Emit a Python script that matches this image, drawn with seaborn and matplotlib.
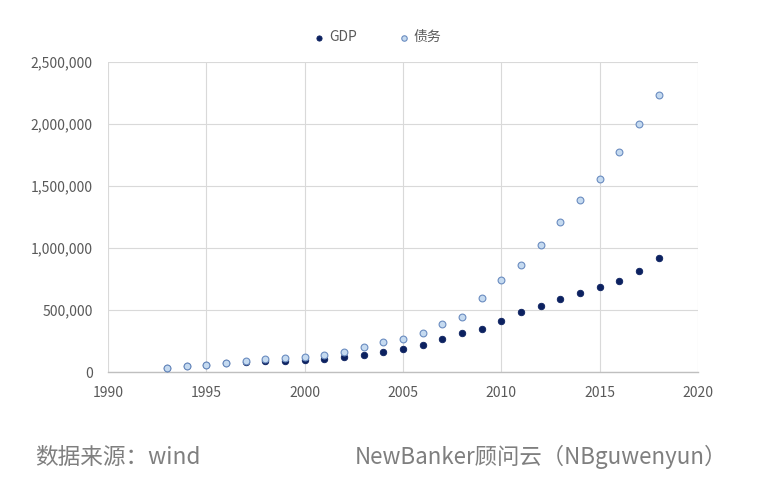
import numpy as np
import pandas as pd
import matplotlib.pyplot as plt
import matplotlib.ticker as mticker
import seaborn as sns

years = list(range(1993, 2019))
gdp = [34000, 50000, 58000, 73000, 81000, 85000, 90500, 98000, 108000, 121000,
       137000, 162000, 187000, 220000, 269000, 317000, 349000, 414000, 485000, 536000,
       591000, 641000, 688000, 736000, 817000, 922000]
debt = [35000, 51000, 59000, 75000, 91000, 107000, 115000, 123000, 140000, 164000,
        204000, 245000, 269000, 317000, 390000, 446000, 599000, 744000, 865000, 1027000,
        1212000, 1390000, 1559000, 1777000, 2002000, 2236000]

sns.set_theme(style="white")
plt.rcParams['font.family'] = ['Noto Sans CJK SC', 'DejaVu Sans']

df = pd.DataFrame({"year": years, "GDP": gdp, "债务": debt})

fig = plt.figure(figsize=(7.72, 4.87), dpi=100)
ax = fig.add_axes([0.1399, 0.2361, 0.7642, 0.6366])

sns.scatterplot(data=df, x="year", y="GDP", ax=ax, s=22, color="#0c2160",
                edgecolor="#0c2160", linewidth=0.6, label="GDP", zorder=3)
sns.scatterplot(data=df, x="year", y="债务", ax=ax, s=24, color="#c5daf0",
                edgecolor="#6a8cc0", linewidth=0.8, label="债务", zorder=4)

ax.set_xlim(1990, 2020)
ax.set_ylim(0, 2500000)
ax.set_xticks(range(1990, 2021, 5))
ax.set_yticks(range(0, 2500001, 500000))
ax.yaxis.set_major_formatter(mticker.FuncFormatter(lambda v, p: f"{int(v):,}"))
ax.grid(True, color="#d9d9d9", linewidth=0.8)
ax.set_axisbelow(True)
for side in ["top", "right", "left"]:
    ax.spines[side].set_visible(False)
ax.spines["bottom"].set_color("#bfbfbf")
ax.spines["bottom"].set_linewidth(1.0)
ax.tick_params(axis="both", length=0, labelsize=10, labelcolor="#595959")
ax.tick_params(axis="y", pad=11)
ax.tick_params(axis="x", pad=10)
ax.set_xlabel("")
ax.set_ylabel("")

ax.legend(loc="upper center", bbox_to_anchor=(0.45, 1.143), ncol=2, frameon=False,
          fontsize=10, labelcolor="#595959", handletextpad=-0.3, columnspacing=2.4,
          markerscale=0.8)

fig.text(0.045, 0.048, "数据来源：wind", fontsize=16.3, color="#7f7f7f")
fig.text(0.46, 0.048, "NewBanker顾问云（NBguwenyun）", fontsize=16.1, color="#7f7f7f")

fig.savefig("out.png", dpi=100)
